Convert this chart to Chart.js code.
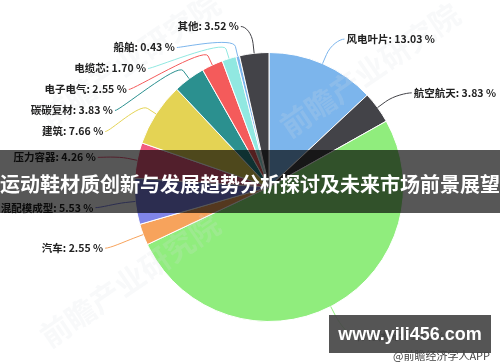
<!DOCTYPE html>
<html>
<head>
<meta charset="utf-8">
<script src="https://cdn.jsdelivr.net/npm/chart.js@4"></script>
<style>
html, body { margin: 0; padding: 0; background: #fff; }
#wrap { position: relative; width: 500px; height: 362px; }
</style>
</head>
<body>
<div id="wrap"><canvas id="pieChart" width="500" height="362"></canvas></div>
<script>
// chart data
const categories = ['风电叶片', '航空航天', '体育休闲', '汽车', '混配模成型', '压力容器', '建筑', '碳碳复材', '电子电气', '电缆芯', '船舶', '其他'];
const shares = [13.03, 3.83, 51.11, 2.55, 5.53, 4.26, 7.66, 3.83, 2.55, 1.70, 0.43, 3.52];
const sliceColors = ['#7cb5ec', '#434348', '#90ed7d', '#f7a35c', '#8085e9', '#f15c80', '#e4d354', '#2b908f', '#f45b5b', '#91e8e1', '#7cb5ec', '#434348'];

// overlay texts
const bannerTitle = '运动鞋材质创新与发展趋势分析探讨及未来市场前景展望';
const siteMark = 'www.yili456.com';
const sourceNote = '@前瞻经济学人APP';
const watermarkText = '前瞻产业研究院';

const labelFont = 'bold 10.5px "Noto Sans CJK SC", sans-serif';

// faint rotated watermarks behind the labels
const watermarks = {
  id: 'watermarks',
  afterDatasetsDraw(chart) {
    const ctx = chart.ctx;
    const spots = [[130, 60], [370, 70], [130, 280]];
    ctx.save();
    ctx.font = 'bold 30px "Noto Sans CJK SC", sans-serif';
    ctx.fillStyle = 'rgba(215, 220, 230, 0.18)';
    ctx.textAlign = 'center';
    ctx.textBaseline = 'middle';
    spots.forEach(([x, y]) => {
      ctx.save();
      ctx.translate(x, y);
      ctx.rotate(-0.6);
      ctx.fillText(watermarkText, 0, 0);
      ctx.restore();
    });
    ctx.restore();
  }
};

// highcharts-like outside labels with soft connectors
const pieLabels = {
  id: 'pieLabels',
  afterDatasetsDraw(chart) {
    const ctx = chart.ctx;
    const arcs = chart.getDatasetMeta(0).data;
    const cx = arcs[0].x, cy = arcs[0].y, r = arcs[0].outerRadius;
    const R = r + 30;
    const lineH = 21;

    const items = arcs.map((arc, i) => {
      const mid = (arc.startAngle + arc.endAngle) / 2;
      const cos = Math.cos(mid), sin = Math.sin(mid);
      return {
        i,
        left: cos < 0,
        target: cy + sin * R,
        touch: { x: cx + cos * r, y: cy + sin * r },
        brk: { x: cx + cos * (r + 10), y: cy + sin * (r + 10) }
      };
    });

    // push labels apart on each side
    [true, false].forEach(side => {
      const group = items.filter(it => it.left === side).sort((a, b) => a.target - b.target);
      let prev = -Infinity;
      group.forEach(it => {
        it.y = Math.max(it.target, prev + lineH);
        prev = it.y;
      });
    });

    ctx.save();
    ctx.font = labelFont;
    ctx.textBaseline = 'middle';
    items.forEach(it => {
      const dy = it.y - cy;
      const dx = Math.sqrt(Math.max(R * R - dy * dy, 0));
      const x = it.left ? cx - dx : cx + dx;
      const y = it.y + 3;
      const sign = it.left ? -1 : 1;
      const start = { x: x + sign * 10, y: y };

      ctx.strokeStyle = sliceColors[it.i];
      ctx.lineWidth = 1;
      ctx.beginPath();
      ctx.moveTo(start.x, start.y);
      ctx.bezierCurveTo(
        start.x - sign * 5, start.y,
        2 * it.brk.x - it.touch.x, 2 * it.brk.y - it.touch.y,
        it.brk.x, it.brk.y
      );
      ctx.lineTo(it.touch.x, it.touch.y);
      ctx.stroke();

      ctx.fillStyle = '#222';
      ctx.textAlign = it.left ? 'right' : 'left';
      const text = `${categories[it.i]}: ${shares[it.i].toFixed(2)} %`;
      ctx.fillText(text, x + sign * 12, y);
    });
    ctx.restore();
  }
};

// title banner and site marks on top
const overlays = {
  id: 'overlays',
  afterDraw(chart) {
    const ctx = chart.ctx;
    ctx.save();
    ctx.fillStyle = 'rgba(0, 0, 0, 0.66)';
    ctx.fillRect(0, 150, 500, 63);
    ctx.fillStyle = '#fff';
    ctx.font = 'bold 20px "Noto Sans CJK SC", sans-serif';
    ctx.textAlign = 'center';
    ctx.textBaseline = 'middle';
    ctx.fillText(bannerTitle, 250, 184);

    ctx.fillStyle = 'rgba(70, 70, 70, 0.92)';
    ctx.fillRect(329, 315, 162, 38);
    ctx.fillStyle = '#fff';
    ctx.font = 'bold 18px "Liberation Sans", sans-serif';
    ctx.fillText(siteMark, 410, 335);

    ctx.fillStyle = '#444';
    ctx.font = '11px "Noto Sans CJK SC", sans-serif';
    ctx.textAlign = 'right';
    ctx.fillText(sourceNote, 490, 356);
    ctx.restore();
  }
};

const chart = new Chart(document.getElementById('pieChart'), {
  type: 'pie',
  data: {
    labels: categories,
    datasets: [{
      data: shares,
      backgroundColor: sliceColors,
      borderColor: '#fff',
      borderWidth: 1
    }]
  },
  options: {
    responsive: false,
    animation: false,
    layout: { padding: { left: 134, right: 96, top: 52, bottom: 40 } },
    plugins: {
      legend: { display: false },
      tooltip: { enabled: false }
    }
  },
  plugins: [watermarks, pieLabels, overlays]
});
</script>
</body>
</html>
